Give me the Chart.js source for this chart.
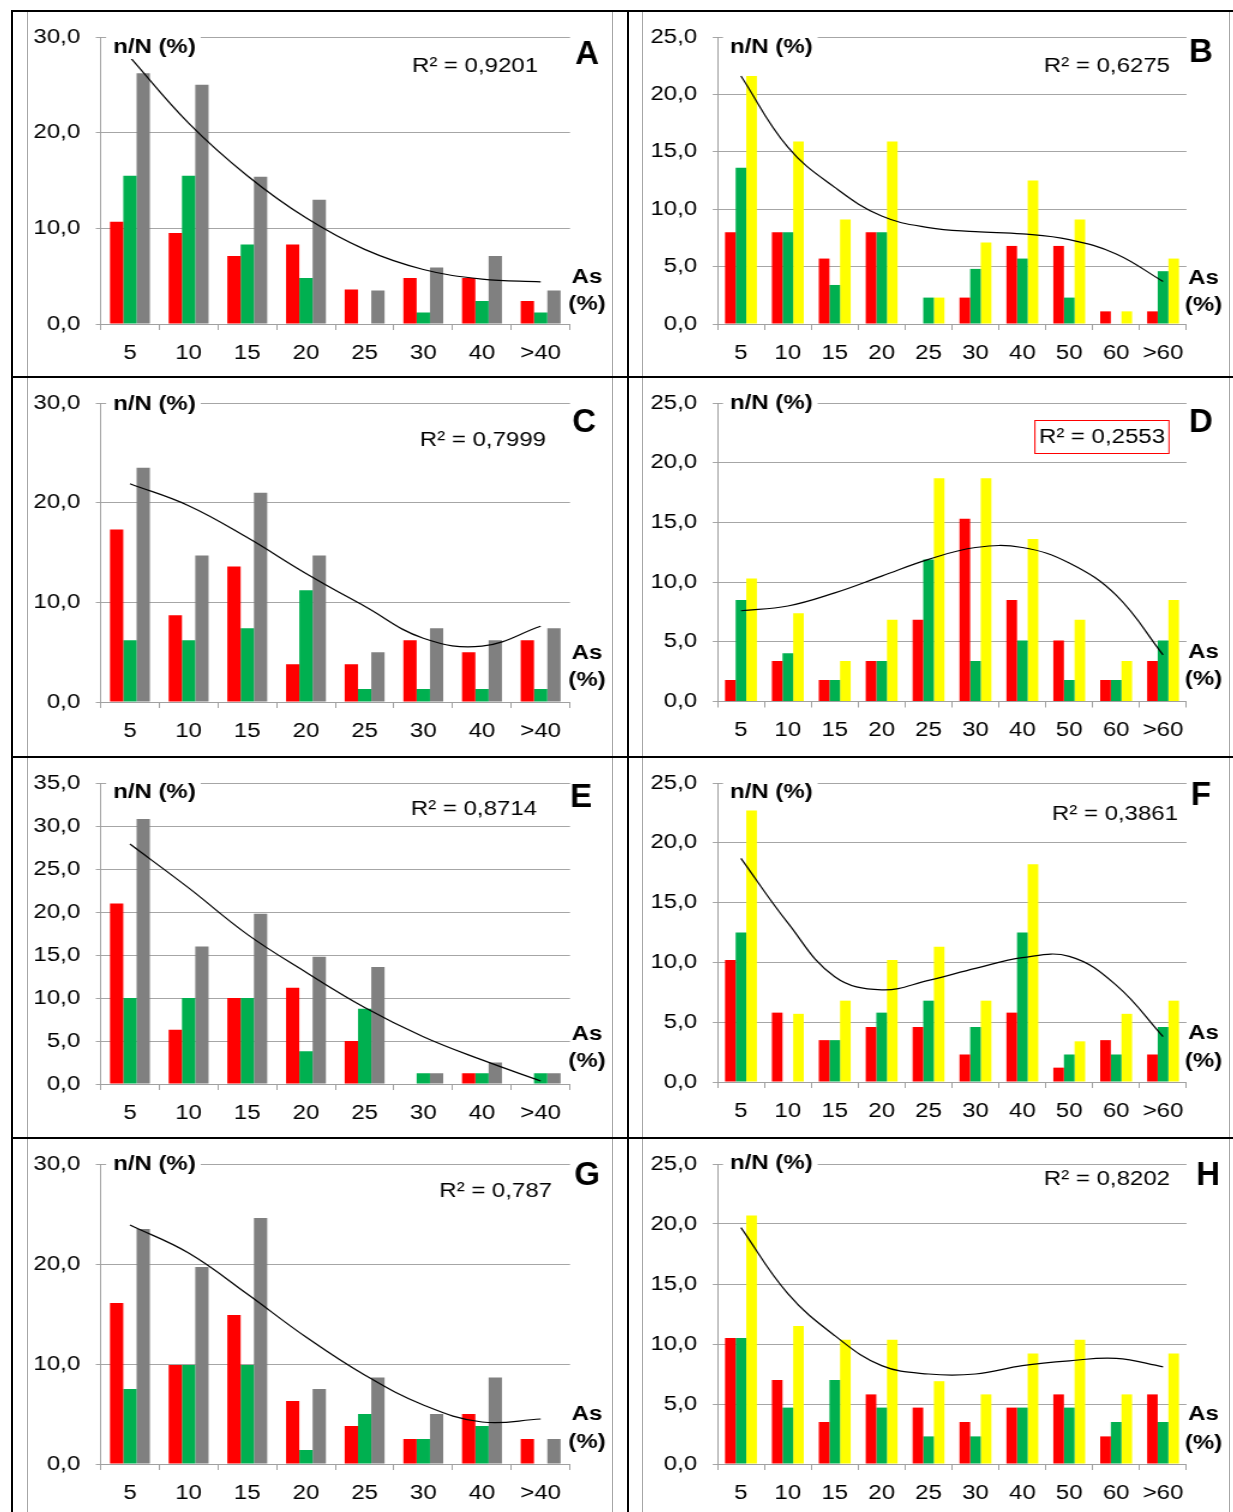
<!DOCTYPE html>
<html>
<head>
<meta charset="utf-8">
<script src="https://cdn.jsdelivr.net/npm/chart.js@4.4.1/dist/chart.umd.min.js"></script>
<style>
  body { margin: 0; background: #fff; width: 1233px; height: 1512px; position: relative; overflow: hidden; }
  .blk { position: absolute; background: #000; }
  .gry { position: absolute; background: #a6a6a6; }
  .cell { position: absolute; overflow: hidden; }
  .cell canvas { transform: scaleX(1.2); transform-origin: 0 0; }
</style>
</head>
<body>
<script>
// categories
const cats8 = ['5', '10', '15', '20', '25', '30', '40', '>40'];
const cats10 = ['5', '10', '15', '20', '25', '30', '40', '50', '60', '>60'];

// A
const redA = [10.7, 9.5, 7.1, 8.3, 3.6, 4.8, 4.8, 2.4];
const greenA = [15.5, 15.5, 8.3, 4.8, 0, 1.2, 2.4, 1.2];
const grayA = [26.2, 25.0, 15.4, 13.0, 3.5, 5.9, 7.1, 3.5];
const trendA = [27.9, 21.0, 15.5, 11.1, 7.8, 5.7, 4.7, 4.4];

// B
const redB = [8.0, 8.0, 5.7, 8.0, 0, 2.3, 6.8, 6.8, 1.1, 1.1];
const greenB = [13.6, 8.0, 3.4, 8.0, 2.3, 4.8, 5.7, 2.3, 0, 4.6];
const yellowB = [21.6, 15.9, 9.1, 15.9, 2.3, 7.1, 12.5, 9.1, 1.1, 5.7];
const trendB = [21.6, 15.4, 11.9, 9.4, 8.4, 8.05, 7.85, 7.35, 6.1, 3.7];

// C
const redC = [17.3, 8.7, 13.6, 3.8, 3.8, 6.2, 5.0, 6.2];
const greenC = [6.2, 6.2, 7.4, 11.2, 1.3, 1.3, 1.3, 1.3];
const grayC = [23.5, 14.7, 21.0, 14.7, 5.0, 7.4, 6.2, 7.4];
const trendC = [21.9, 19.7, 16.5, 12.9, 9.6, 6.4, 5.6, 7.6];

// D
const redD = [1.8, 3.4, 1.8, 3.4, 6.85, 15.3, 8.5, 5.1, 1.8, 3.4];
const greenD = [8.5, 4.05, 1.8, 3.4, 11.9, 3.4, 5.1, 1.8, 1.8, 5.1];
const yellowD = [10.3, 7.4, 3.4, 6.85, 18.7, 18.7, 13.6, 6.85, 3.4, 8.5];
const trendD = [7.6, 8.0, 9.1, 10.5, 11.9, 12.9, 12.9, 11.6, 8.9, 3.9];

// E
const redE = [21.0, 6.3, 10.0, 11.2, 5.0, 0, 1.25, 0];
const greenE = [10.0, 10.0, 10.0, 3.8, 8.75, 1.25, 1.25, 1.25];
const grayE = [30.8, 16.0, 19.8, 14.8, 13.6, 1.25, 2.5, 1.25];
const trendE = [27.9, 22.8, 17.4, 13.0, 8.9, 5.5, 2.8, 0.35];

// F
const redF = [10.2, 5.8, 3.5, 4.6, 4.6, 2.3, 5.8, 1.2, 3.5, 2.3];
const greenF = [12.5, 0, 3.5, 5.8, 6.8, 4.6, 12.5, 2.3, 2.3, 4.6];
const yellowF = [22.7, 5.7, 6.8, 10.2, 11.3, 6.8, 18.2, 3.4, 5.7, 6.8];
const trendF = [18.7, 13.3, 8.8, 7.7, 8.5, 9.5, 10.4, 10.5, 8.1, 3.8];

// G
const redG = [16.1, 9.9, 14.9, 6.3, 3.8, 2.5, 5.0, 2.5];
const greenG = [7.5, 9.9, 9.9, 1.4, 5.0, 2.5, 3.8, 0];
const grayG = [23.5, 19.7, 24.6, 7.5, 8.65, 5.0, 8.65, 2.5];
const trendG = [23.9, 21.1, 17.0, 12.7, 8.9, 5.9, 4.2, 4.5];

// H
const redH = [10.5, 7.0, 3.5, 5.8, 4.7, 3.5, 4.7, 5.8, 2.3, 5.8];
const greenH = [10.5, 4.7, 7.0, 4.7, 2.3, 2.3, 4.7, 4.7, 3.5, 3.5];
const yellowH = [20.7, 11.5, 10.35, 10.35, 6.9, 5.8, 9.2, 10.35, 5.8, 9.2];
const trendH = [19.7, 14.2, 10.7, 8.2, 7.5, 7.5, 8.2, 8.6, 8.8, 8.1];

const S = 1.2; // horizontal stretch of the original figure
const FONT = '"Liberation Sans", Arial, sans-serif';
const FS = 20;
const GRAY = '#808080', YELLOW = '#ffff00';

const panels = [
  { key: 'A', r2: 'R² = 0,9201', cats: cats8, red: redA, green: greenA, third: grayA, thirdColor: GRAY, trend: trendA, yMax: 30, step: 10,
    x: 28, y: 12, w: 584, h: 364, axisX: 100.6, plotR: 570, plotT: 32.7, plotB: 324,
    nDy: 10, rDx: -32, rDy: 29.5, lDx: 17, lDy: 18, asDy: -47, pcDy: -20 },
  { key: 'B', r2: 'R² = 0,6275', cats: cats10, red: redB, green: greenB, third: yellowB, thirdColor: YELLOW, trend: trendB, yMax: 25, step: 5,
    x: 643, y: 12, w: 586, h: 364, axisX: 717.5, plotR: 1186.5, plotT: 32.7, plotB: 324,
    nDy: 10, rDx: -16.5, rDy: 29, lDx: 14.5, lDy: 16, asDy: -46, pcDy: -19 },
  { key: 'C', r2: 'R² = 0,7999', cats: cats8, red: redC, green: greenC, third: grayC, thirdColor: GRAY, trend: trendC, yMax: 30, step: 10,
    x: 28, y: 378, w: 584, h: 378, axisX: 100.6, plotR: 570, plotT: 401, plotB: 702,
    nDy: 1, rDx: -24, rDy: 37, lDx: 14, lDy: 20, asDy: -49, pcDy: -22 },
  { key: 'D', r2: 'R² = 0,2553', box: true, cats: cats10, red: redD, green: greenD, third: yellowD, thirdColor: YELLOW, trend: trendD, yMax: 25, step: 5,
    x: 643, y: 378, w: 586, h: 378, axisX: 717.5, plotR: 1186.5, plotT: 401, plotB: 701.5,
    nDy: 0, rDx: -21.5, rDy: 34, lDx: 14.5, lDy: 20, asDy: -49, pcDy: -22 },
  { key: 'E', r2: 'R² = 0,8714', cats: cats8, red: redE, green: greenE, third: grayE, thirdColor: GRAY, trend: trendE, yMax: 35, step: 5,
    x: 28, y: 758, w: 584, h: 379, axisX: 100.6, plotR: 570, plotT: 781, plotB: 1084,
    nDy: 9, rDx: -33, rDy: 26, lDx: 11, lDy: 15, asDy: -50, pcDy: -23 },
  { key: 'F', r2: 'R² = 0,3861', cats: cats10, red: redF, green: greenF, third: yellowF, thirdColor: YELLOW, trend: trendF, yMax: 25, step: 5,
    x: 643, y: 758, w: 586, h: 379, axisX: 717.5, plotR: 1186.5, plotT: 781, plotB: 1082,
    nDy: 9, rDx: -8.5, rDy: 31, lDx: 14.5, lDy: 13, asDy: -49, pcDy: -21 },
  { key: 'G', r2: 'R² = 0,787', cats: cats8, red: redG, green: greenG, third: grayG, thirdColor: GRAY, trend: trendG, yMax: 30, step: 10,
    x: 28, y: 1139, w: 584, h: 373, axisX: 100.6, plotR: 570, plotT: 1162, plotB: 1464,
    nDy: 0, rDx: -18, rDy: 27, lDx: 17, lDy: 12, asDy: -50, pcDy: -22 },
  { key: 'H', r2: 'R² = 0,8202', cats: cats10, red: redH, green: greenH, third: yellowH, thirdColor: YELLOW, trend: trendH, yMax: 25, step: 5,
    x: 643, y: 1139, w: 586, h: 373, axisX: 717.5, plotR: 1186.5, plotT: 1162.5, plotB: 1464,
    nDy: -1, rDx: -16.5, rDy: 15, lDx: 21.5, lDy: 12, asDy: -50, pcDy: -21 }
];

function labelsPlugin(p) {
  return {
    id: 'labels' + p.key,
    afterDraw(chart) {
      const ctx = chart.ctx, a = chart.chartArea;
      ctx.save();
      ctx.textBaseline = 'middle';

      // n/N (%) on a white box over the top gridline
      ctx.font = 'bold ' + FS + 'px ' + FONT;
      const nx = a.left + 12.5 / S, ny = a.top + p.nDy;
      const nw = ctx.measureText('n/N (%)').width;
      ctx.fillStyle = '#fff';
      ctx.fillRect(nx - 7 / S, ny - 12, nw + 12 / S, 24);
      ctx.fillStyle = '#000';
      ctx.textAlign = 'left';
      ctx.fillText('n/N (%)', nx, ny);

      // R²
      ctx.font = FS + 'px ' + FONT;
      ctx.textAlign = 'right';
      const rx = a.right + p.rDx / S, ry = a.top + p.rDy;
      ctx.fillText(p.r2, rx, ry);
      if (p.box) {
        const rw = ctx.measureText(p.r2).width;
        ctx.strokeStyle = '#ff0000';
        ctx.lineWidth = 1;
        ctx.strokeRect(rx - rw - 4 / S, ry - 16.5, rw + 8 / S, 33);
      }

      // As (%)
      ctx.font = 'bold ' + FS + 'px ' + FONT;
      ctx.textAlign = 'center';
      const ax = a.right + 17 / S;
      ctx.fillText('As', ax, a.bottom + p.asDy);
      ctx.fillText('(%)', ax, a.bottom + p.pcDy);

      // panel letter (not stretched)
      ctx.translate(a.right + p.lDx / S, a.top + p.lDy);
      ctx.scale(1 / S, 1);
      ctx.font = 'bold 33px ' + FONT;
      ctx.fillText(p.key, 0, 0);
      ctx.restore();
    }
  };
}

function makePanel(p) {
  const wrap = document.createElement('div');
  wrap.className = 'cell';
  wrap.style.left = p.x + 'px';
  wrap.style.top = p.y + 'px';
  wrap.style.width = p.w + 'px';
  wrap.style.height = p.h + 'px';
  const cv = document.createElement('canvas');
  cv.width = Math.round(p.w / S);
  cv.height = p.h;
  wrap.appendChild(cv);
  document.body.appendChild(wrap);

  const left = (p.axisX - p.x) / S;
  const right = cv.width - (p.plotR - p.x) / S;
  const top = p.plotT - p.y;
  const bottom = p.y + p.h - p.plotB;

  new Chart(cv, {
    type: 'bar',
    data: {
      labels: p.cats,
      datasets: [
        { type: 'line', data: p.trend, borderColor: '#000', borderWidth: 1.2, pointRadius: 0,
          tension: 0.4, order: 0 },
        { data: p.red, backgroundColor: '#ff0000', order: 1 },
        { data: p.green, backgroundColor: '#00b050', order: 1 },
        { data: p.third, backgroundColor: p.thirdColor, order: 1 }
      ]
    },
    options: {
      responsive: false,
      animation: false,
      devicePixelRatio: 1,
      layout: { padding: { top: top, right: right, left: 0, bottom: 0 } },
      datasets: { bar: { categoryPercentage: 0.68, barPercentage: 1 } },
      plugins: { legend: { display: false }, tooltip: { enabled: false } },
      scales: {
        x: {
          grid: { drawOnChartArea: false, color: '#a0a0a0', tickLength: 6, offset: true },
          border: { color: '#a0a0a0' },
          ticks: { font: { family: FONT, size: FS }, color: '#000', padding: 11, maxRotation: 0, autoSkip: false },
          afterFit: s => { s.height = bottom; }
        },
        y: {
          min: 0, max: p.yMax,
          grid: { color: '#a6a6a6', tickLength: 4 },
          border: { color: '#a0a0a0' },
          ticks: { stepSize: p.step, font: { family: FONT, size: FS }, color: '#000', padding: 13,
            callback: v => v.toFixed(1).replace('.', ',') },
          afterFit: s => { s.width = left; }
        }
      }
    },
    plugins: [labelsPlugin(p)]
  });
}

panels.forEach(makePanel);

// table rules and chart frames
function rule(cls, l, t, w, h) {
  const d = document.createElement('div');
  d.className = cls;
  d.style.left = l + 'px'; d.style.top = t + 'px';
  d.style.width = w + 'px'; d.style.height = h + 'px';
  document.body.appendChild(d);
}
[27, 612, 642, 1229].forEach(x => rule('gry', x, 12, 1, 1500));
rule('blk', 11, 10, 1222, 2);
rule('blk', 11, 376, 1222, 2);
rule('blk', 11, 756, 1222, 2);
rule('blk', 11, 1137, 1222, 2);
rule('blk', 11, 10, 2, 1502);
rule('blk', 627, 10, 2, 1502);
</script>
</body>
</html>
